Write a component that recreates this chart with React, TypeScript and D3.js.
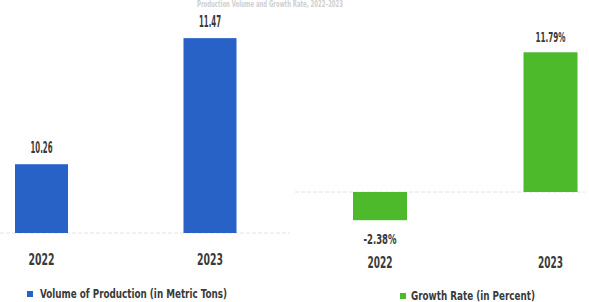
import React from "react";
import * as d3 from "d3";

const years = ["2022", "2023"];
const volume = [10.26, 11.47];
const volumeLabels = ["10.26", "11.47"];
const growth = [-2.38, 11.79];
const growthLabels = ["-2.38%", "11.79%"];
const legendVolume = "Volume of Production (in Metric Tons)";
const legendGrowth = "Growth Rate (in Percent)";
const title = "Production Volume and Growth Rate, 2022–2023";

const W = 589;
const H = 302;
const FONT = "'Liberation Sans Narrow', 'DejaVu Sans Condensed', sans-serif";
const BLUE = "#2862c6";
const GREEN = "#4dba2c";
const TEXT = "#3a3a3a";

export default function App() {
  const xL = d3.scalePoint<string>().domain(years).range([41.5, 210]);
  const yL = d3.scaleLinear().domain([9.6, 11.5]).range([233, 35]);
  const xR = d3.scalePoint<string>().domain(years).range([380, 550.5]);
  const yR = d3.scaleLinear().domain([-3, 12]).range([227.55, 49.8]);
  const bwL = 53;
  const bwR = 54;

  return (
    <svg width={W} height={H} style={{ position: "absolute", left: 0, top: 0, background: "#fff" }}>
      <text x={270} y={7} textAnchor="middle" fontFamily={FONT} fontWeight="bold" fontSize={9} fill="#cfcfcf"
        textLength={146} lengthAdjust="spacingAndGlyphs">
        {title}
      </text>
      {/* left chart */}
      <line x1={0} x2={290} y1={yL(9.6)} y2={yL(9.6)} stroke="#e2e2e2" strokeDasharray="4,2" />
      {years.map((yr, i) => (
        <g key={"l" + yr}>
          <rect x={xL(yr)! - bwL / 2} width={bwL} y={yL(volume[i])} height={yL(9.6) - yL(volume[i])} fill={BLUE} />
          <text x={xL(yr)} y={yL(volume[i]) - 11} textAnchor="middle" fontFamily={FONT} fontWeight="bold" fontSize={15} fill={TEXT}
            textLength={22} lengthAdjust="spacingAndGlyphs">
            {volumeLabels[i]}
          </text>
          <text x={xL(yr)} y={264.5} textAnchor="middle" fontFamily={FONT} fontWeight="bold" fontSize={16} fill={TEXT}
            textLength={26} lengthAdjust="spacingAndGlyphs">
            {yr}
          </text>
        </g>
      ))}
      <rect x={27} y={291} width={6} height={6} fill={BLUE} />
      <text x={40} y={297.5} fontFamily={FONT} fontWeight="bold" fontSize={11.5} fill={TEXT}
        textLength={187} lengthAdjust="spacingAndGlyphs">
        {legendVolume}
      </text>
      {/* right chart */}
      <line x1={295} x2={585} y1={yR(0)} y2={yR(0)} stroke="#e2e2e2" strokeDasharray="4,2" />
      {years.map((yr, i) => {
        const y0 = yR(Math.max(0, growth[i]));
        const y1 = yR(Math.min(0, growth[i]));
        const labelY = growth[i] >= 0 ? y0 - 10 : y1 + 24;
        return (
          <g key={"r" + yr}>
            <rect x={xR(yr)! - bwR / 2} width={bwR} y={y0} height={y1 - y0} fill={GREEN} />
            <text x={xR(yr)} y={labelY} textAnchor="middle" fontFamily={FONT} fontWeight="bold" fontSize={14} fill={TEXT}
              textLength={growth[i] >= 0 ? 30 : 33} lengthAdjust="spacingAndGlyphs">
              {growthLabels[i]}
            </text>
            <text x={xR(yr)} y={268} textAnchor="middle" fontFamily={FONT} fontWeight="bold" fontSize={16} fill={TEXT}
              textLength={25} lengthAdjust="spacingAndGlyphs">
              {yr}
            </text>
          </g>
        );
      })}
      <rect x={400} y={293} width={6} height={6} fill={GREEN} />
      <text x={411} y={299.5} fontFamily={FONT} fontWeight="bold" fontSize={11.5} fill={TEXT}
        textLength={124} lengthAdjust="spacingAndGlyphs">
        {legendGrowth}
      </text>
    </svg>
  );
}
